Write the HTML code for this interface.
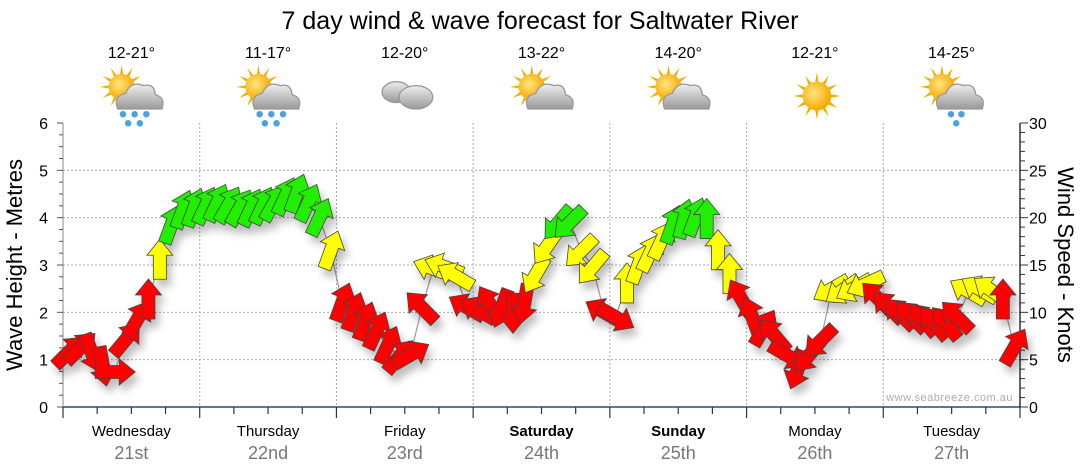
<!DOCTYPE html>
<html><head><meta charset="utf-8"><style>
html,body{margin:0;padding:0;background:#fff;}
svg{display:block;font-family:"Liberation Sans",sans-serif;}
</style></head><body>
<svg id="c" width="1080" height="475" viewBox="0 0 1080 475">
<defs>
<filter id="sh" x="-50%" y="-50%" width="200%" height="200%"><feDropShadow dx="4" dy="7" stdDeviation="4" flood-color="#000" flood-opacity="0.25"/></filter>
<radialGradient id="sun" cx="0.4" cy="0.4" r="0.6"><stop offset="0" stop-color="#ffe680"/><stop offset="1" stop-color="#f5a800"/></radialGradient>
<linearGradient id="cl" x1="0" y1="0" x2="0" y2="1"><stop offset="0" stop-color="#eee"/><stop offset="1" stop-color="#999"/></linearGradient>
</defs>
<text x="540" y="29" text-anchor="middle" font-size="25">7 day wind &amp; wave forecast for Saltwater River</text>
<g id="grid"></g>
<g id="icons"></g>
<g id="axes"></g>
<polyline id="line" fill="none" stroke="#999" stroke-width="1.2"/>
<g id="arrows" filter="url(#sh)"></g>
<text x="1013" y="401" text-anchor="end" font-size="11" fill="#aab" letter-spacing="0.5">www.seabreeze.com.au</text>
<text transform="translate(22,265) rotate(-90)" text-anchor="middle" font-size="22">Wave Height - Metres</text>
<text transform="translate(1058,265) rotate(90)" text-anchor="middle" font-size="22">Wind Speed - Knots</text>
</svg>
<script>
const days=["Wednesday","Thursday","Friday","Saturday","Sunday","Monday","Tuesday"];
const dates=["21st","22nd","23rd","24th","25th","26th","27th"];
const bold=[false,false,false,true,true,false,false];
const temps=["12-21°","11-17°","12-20°","13-22°","14-20°","12-21°","14-25°"];
const icons=["rain","rain","cloud","suncloud","suncloud","sun","lightrain"];
const leftTicks=[0,1,2,3,4,5,6];
const rightTicks=[0,5,10,15,20,25,30];
const windKnots=[5.8,6.2,5.8,4.4,3.7,7.1,9.2,11.3,15.5,19.2,20.8,21,
21.2,21.5,21.3,21,21,21.2,21.5,22.2,22.5,21.5,20,16.5,
11,10,9,8,6.5,5.3,5.5,10.5,14.6,14.8,13.8,10.5,
10.2,10.8,10.5,10,11,14,17,19.5,19.5,16.5,14.8,10,
9.5,13,15,16.2,17.5,19.2,19.8,20,19.8,16.5,14,11.5,
9.5,8.3,7.5,5.5,4,5.5,7,12.5,12.4,12.6,13,11.5,
10.5,9.8,9.5,9.2,8.8,8.8,9.5,12.2,12.4,12.3,11.3,6.3];
const windDir=[45,45,160,170,90,40,30,0,0,20,20,20,
25,25,30,30,25,25,30,25,20,25,25,20,
20,20,20,25,25,40,60,-45,-70,-70,-60,-60,
-60,-30,200,180,190,210,215,220,225,225,220,300,
120,0,20,25,25,20,15,20,0,0,0,-30,
-20,30,-40,120,200,220,225,240,235,240,245,-45,
-45,-45,-45,-40,-40,-40,-45,-60,-60,-55,0,30];

const X0=63,X1=1020,Y0=407,Y1=123,dayW=(X1-X0)/7;
const xT=h=>X0+h/24*dayW;
const yM=m=>Y0-m/6*(Y0-Y1);
const yK=k=>Y0-k/30*(Y0-Y1);
const NS="http://www.w3.org/2000/svg";
function mk(p,tag,at){const e=document.createElementNS(NS,tag);for(const k in at)e.setAttribute(k,at[k]);p.appendChild(e);return e;}
const grid=document.getElementById('grid'),axes=document.getElementById('axes'),ic=document.getElementById('icons');
for(let m=1;m<=5;m++){const l=mk(grid,'line',{x1:X0,x2:X1,y1:yM(m),y2:yM(m),stroke:'#aaa','stroke-dasharray':'2,2'});

}
for(let d=1;d<7;d++){const l=mk(grid,'line',{x1:X0+d*dayW,x2:X0+d*dayW,y1:Y1,y2:Y0,stroke:'#aaa','stroke-dasharray':'2,2'});

}
mk(axes,'line',{x1:X0,x2:X1,y1:Y0,y2:Y0,stroke:'#1f4e79','stroke-width':1.5});
mk(axes,'line',{x1:X1,x2:X1,y1:Y1,y2:Y0,stroke:'#000','stroke-width':1.2});
mk(axes,'line',{x1:X0,x2:X0,y1:Y1,y2:Y0,stroke:'#888','stroke-width':1});
for(let m=0;m<=24;m++){const y=Y0-m/24*(Y0-Y1);mk(axes,'line',{x1:m%4==0?X0-6:X0-4,x2:X0,y1:y,y2:y,stroke:'#555'});}
for(let k=0;k<=30;k++){const y=yK(k);mk(axes,'line',{x1:X1,x2:X1+(k%5==0?8:5),y1:y,y2:y,stroke:'#333'});}
for(let h=0;h<=168;h+=6){const x=xT(h);mk(axes,'line',{x1:x,x2:x,y1:Y0,y2:Y0+(h%24==0?11:7),stroke:'#333','stroke-width':1.2});}
leftTicks.forEach(v=>{const t=mk(axes,'text',{x:48,y:yM(v)+6,'text-anchor':'end','font-size':16});t.textContent=v;

});
rightTicks.forEach(v=>{const t=mk(axes,'text',{x:1029,y:yK(v)+6,'font-size':16});t.textContent=v;

});
days.forEach((d,i)=>{const cx=X0+(i+0.5)*dayW;
const t=mk(axes,'text',{x:cx,y:436,'text-anchor':'middle','font-size':15,'font-weight':bold[i]?'bold':'normal'});t.textContent=d;


const t2=mk(axes,'text',{x:cx,y:459,'text-anchor':'middle','font-size':18,fill:'#777'});t2.textContent=dates[i];


const t3=mk(ic,'text',{x:cx,y:58,'text-anchor':'middle','font-size':16});t3.textContent=temps[i];


const g=mk(ic,'g',{transform:`translate(${cx+2},96) scale(1.3)`});


const type=icons[i];
if(type!='cloud'){const sx=type=='sun'?0:-9,sy=type=='sun'?0:-7,r=type=='sun'?11:10;
for(let a=0;a<360;a+=30){const rad=a*Math.PI/180;mk(g,'polygon',{points:`${sx+Math.cos(rad-0.12)*r},${sy+Math.sin(rad-0.12)*r} ${sx+Math.cos(rad)*(r+7)},${sy+Math.sin(rad)*(r+7)} ${sx+Math.cos(rad+0.12)*r},${sy+Math.sin(rad+0.12)*r}`,fill:'#f0b000'});}
mk(g,'circle',{cx:sx,cy:sy,r:r,fill:'url(#sun)'});}
if(type!='sun'){
if(type=='cloud'){mk(g,'ellipse',{cx:-8,cy:-3,rx:11,ry:8,fill:'url(#cl)',stroke:'#999'});mk(g,'ellipse',{cx:7,cy:1,rx:13,ry:9,fill:'url(#cl)',stroke:'#999'});}
else{mk(g,'path',{d:'M-12,10 Q-16,0 -6,-2 Q-2,-12 8,-8 Q16,-10 17,-1 Q25,1 22,10 Z',fill:'url(#cl)',stroke:'#999'});}
if(type=='rain'||type=='lightrain'){const drops=type=='rain'?[[-8,14],[1,14],[10,14],[-4,21],[5,21]]:[[-2,14],[6,14],[2,21]];
drops.forEach(p=>mk(g,'circle',{cx:p[0],cy:p[1],r:2.5,fill:'#4aa3df'}));}}
});
const pts=[];const ag=document.getElementById('arrows');
windKnots.forEach((k,i)=>{const x=xT(2*i+1),y=yK(k);pts.push(x+','+y);
const col=k>=18?'#22ee00':k>=12?'#ffff00':'#ff0000';
const p=mk(ag,'polygon',{points:'0,-21 13,-5 6.5,-5 6.5,19 -6.5,19 -6.5,-5 -13,-5',fill:col,stroke:'#444','stroke-width':0.8,transform:`translate(${x},${y}) rotate(${windDir[i]})`});

});
document.getElementById('line').setAttribute('points',pts.join(' '));
</script>
</body></html>
